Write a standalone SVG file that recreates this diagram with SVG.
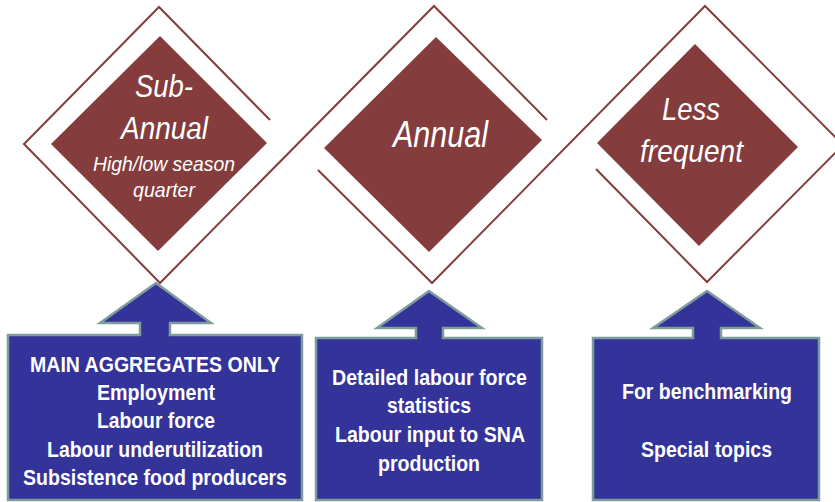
<svg xmlns="http://www.w3.org/2000/svg" width="835" height="502" viewBox="0 0 835 502">
<style>
.frame{fill:none;stroke:#843C3C;stroke-width:2;stroke-linejoin:miter}
.dia{fill:#843C3C}
.ttl{fill:#fff;font-family:"Liberation Sans",Arial,sans-serif;font-style:italic;text-anchor:middle}
.box{fill:#333399;stroke:#7F9C9C;stroke-width:2.5}
.bt{fill:#fff;font-family:"Liberation Sans",Arial,sans-serif;font-weight:bold;font-size:22px;text-anchor:middle}
</style>
<rect width="835" height="502" fill="#fff"/>
<g id="frames">
<polyline class="frame" points="270,120 159,7 24,144 160,283 434,6 547,120"/>
<polyline class="frame" points="318,170 432,283 705,6 843,145"/>
<polyline class="frame" points="596,169 707,282 843,145"/>
</g>
<g id="subannual">
<polygon class="dia" points="160,36 267,143 158,251 51,144"/>
<text class="ttl" x="164" y="97" font-size="32" textLength="58" lengthAdjust="spacingAndGlyphs">Sub-</text>
<text class="ttl" x="164.5" y="139" font-size="32" textLength="87" lengthAdjust="spacingAndGlyphs">Annual</text>
<text class="ttl" x="164" y="171" font-size="21" textLength="142" lengthAdjust="spacingAndGlyphs">High/low season</text>
<text class="ttl" x="164" y="197" font-size="21" textLength="62" lengthAdjust="spacingAndGlyphs">quarter</text>
</g>
<g id="annual">
<polygon class="dia" points="436,37 542,140 429,252 324,148"/>
<text class="ttl" x="440.5" y="147" font-size="36" textLength="95" lengthAdjust="spacingAndGlyphs">Annual</text>
</g>
<g id="lessfrequent">
<polygon class="dia" points="695,44 798,147 699,246 597,143"/>
<text class="ttl" x="691" y="120" font-size="32" textLength="58" lengthAdjust="spacingAndGlyphs">Less</text>
<text class="ttl" x="691.5" y="162" font-size="32" textLength="103" lengthAdjust="spacingAndGlyphs">frequent</text>
</g>
<g id="box1">
<path class="box" d="M8,335 H140 V323 H100 L156,283 L211,323 H170 V335 H302 V500 H8 Z"/>
<text class="bt" x="155" y="372" textLength="250" lengthAdjust="spacingAndGlyphs">MAIN AGGREGATES ONLY</text>
<text class="bt" x="156" y="400" textLength="118" lengthAdjust="spacingAndGlyphs">Employment</text>
<text class="bt" x="156" y="428" textLength="118" lengthAdjust="spacingAndGlyphs">Labour force</text>
<text class="bt" x="155" y="457" textLength="216" lengthAdjust="spacingAndGlyphs">Labour underutilization</text>
<text class="bt" x="155" y="485" textLength="264" lengthAdjust="spacingAndGlyphs">Subsistence food producers</text>
</g>
<g id="box2">
<path class="box" d="M316,338 H416 V328 H377 L429,291 L482,328 H443 V338 H542 V500 H316 Z"/>
<text class="bt" x="429.5" y="385" textLength="195" lengthAdjust="spacingAndGlyphs">Detailed labour force</text>
<text class="bt" x="429" y="413" textLength="84" lengthAdjust="spacingAndGlyphs">statistics</text>
<text class="bt" x="430" y="442" textLength="190" lengthAdjust="spacingAndGlyphs">Labour input to SNA</text>
<text class="bt" x="429" y="471" textLength="102" lengthAdjust="spacingAndGlyphs">production</text>
</g>
<g id="box3">
<path class="box" d="M593,338 H693 V328 H653 L707,291 L760,328 H721 V338 H819 V500 H593 Z"/>
<text class="bt" x="707" y="399" textLength="170" lengthAdjust="spacingAndGlyphs">For benchmarking</text>
<text class="bt" x="706.5" y="457" textLength="131" lengthAdjust="spacingAndGlyphs">Special topics</text>
</g>
<g id="connectors"></g>
</svg>
